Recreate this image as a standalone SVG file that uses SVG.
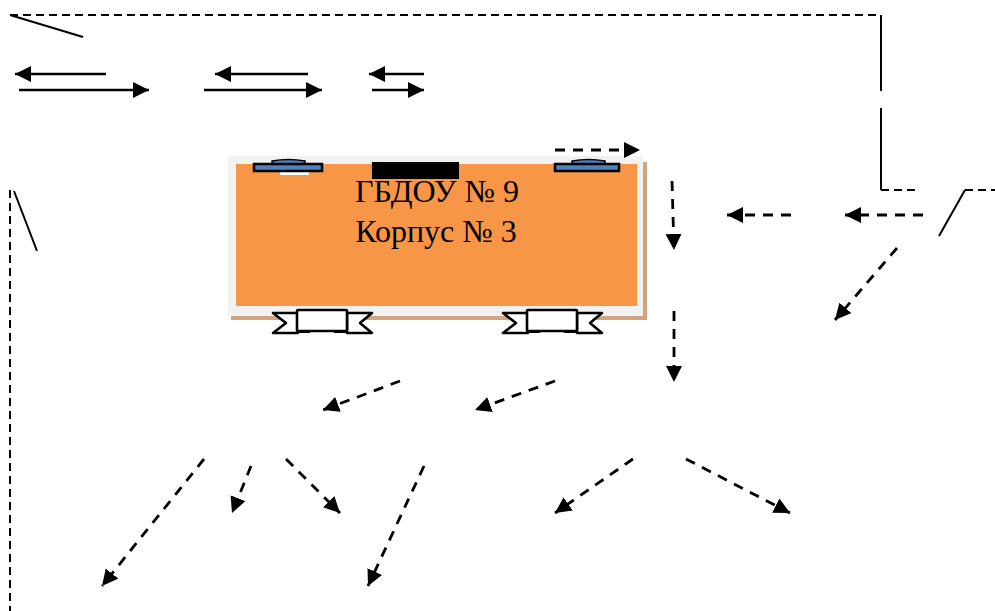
<svg xmlns="http://www.w3.org/2000/svg" width="995" height="611" viewBox="0 0 995 611">
<style>
.l{fill:none;stroke:#000;stroke-width:2}
.a{fill:none;stroke:#000;stroke-width:2.6;marker-end:url(#h)}
.d{fill:none;stroke:#000;stroke-width:2.8;stroke-dasharray:10 8;marker-end:url(#h)}
.dl{fill:none;stroke:#000;stroke-width:2;stroke-dasharray:8 5}
.t{font-family:"Liberation Serif",serif;font-size:32px;fill:#000;text-anchor:middle}
.w{fill:#4f81bd;stroke:#000;stroke-width:2.5}
.g{fill:#fff;stroke:#000;stroke-width:2.6;stroke-linejoin:round}
</style>
<defs>
<marker id="h" markerUnits="userSpaceOnUse" markerWidth="17" markerHeight="17" refX="16" refY="8" orient="auto">
<polygon points="0,0 16,8 0,16" fill="#000"/>
</marker>
</defs>
<g id="building">
<rect x="231" y="162" width="416" height="158" fill="#d2a382"/>
<rect x="228" y="156" width="415" height="160" fill="#f2f2f2"/>
<rect x="236" y="164" width="401" height="142" fill="#f79646"/>
<text class="t" x="437" y="202">ГБДОУ № 9</text>
<text class="t" x="436" y="242">Корпус № 3</text>
</g>
<g id="gate">
<rect x="372" y="162" width="87" height="17" fill="#000"/>
</g>
<g id="window-left">
<rect x="280" y="172" width="29" height="3" fill="#fff"/>
<path d="M272 164V161Q288 158 305 161V164Z" fill="#4f81bd" stroke="#000" stroke-width="1.5"/>
<rect x="254" y="164" width="68" height="7" class="w"/>
</g>
<g id="window-right">
<path d="M572 164V161Q588 158 605 161V164Z" fill="#4f81bd" stroke="#000" stroke-width="1.5"/>
<rect x="555" y="164" width="64" height="7" class="w"/>
</g>
<g id="entrance-left">
<path class="g" d="M298 313H273L286 323L273 333H298Z"/>
<path class="g" d="M347 313H372L360 323L372 333H347Z"/>
<rect class="g" x="297" y="310" width="50" height="21" rx="1"/>
<rect x="297" y="330" width="13" height="3" fill="#000"/>
<rect x="334" y="330" width="13" height="3" fill="#000"/>
</g>
<g id="entrance-right">
<path class="g" d="M528 313H503L516 323L503 333H528Z"/>
<path class="g" d="M577 313H602L590 323L602 333H577Z"/>
<rect class="g" x="527" y="310" width="50" height="21" rx="1"/>
<rect x="527" y="330" width="13" height="3" fill="#000"/>
<rect x="564" y="330" width="13" height="3" fill="#000"/>
</g>
<g id="connectors">
<path class="dl" d="M10 15H881"/>
<path class="l" d="M10 15L83 37"/>
<path class="l" d="M881 15V91M881 108V190"/>
<path class="dl" d="M881 190H918"/>
<path class="l" d="M965 190L939 236"/>
<path class="dl" d="M965 190H995"/>
<path class="dl" d="M10 190V611"/>
<path class="l" d="M14 191L37 251"/>
<path class="a" d="M106 74H15"/>
<path class="a" d="M19 90H149"/>
<path class="a" d="M308 74H215"/>
<path class="a" d="M204 90H322"/>
<path class="a" d="M424 74H369"/>
<path class="a" d="M372 90H424"/>
<path class="d" d="M555 150H640"/>
<path class="d" d="M672 181L674 250"/>
<path class="d" d="M791 215H727"/>
<path class="d" d="M923 215H845"/>
<path class="d" d="M897 248L835 320"/>
<path class="d" d="M674 311V382"/>
<path class="d" d="M400 381L323 410"/>
<path class="d" d="M555 381L475 410"/>
<path class="d" d="M204 459L102 586"/>
<path class="d" d="M251 466L232 513"/>
<path class="d" d="M286 459L340 513"/>
<path class="d" d="M424 466L368 586"/>
<path class="d" d="M633 459L555 513"/>
<path class="d" d="M686 459L790 513"/>
</g>
</svg>
